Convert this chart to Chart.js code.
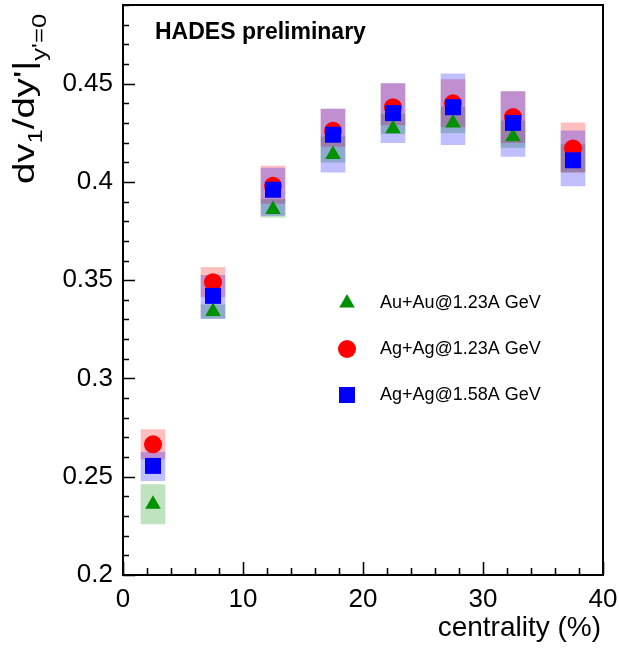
<!DOCTYPE html>
<html>
<head>
<meta charset="utf-8">
<script src="https://cdn.jsdelivr.net/npm/chart.js@4/dist/chart.umd.min.js"></script>
<style>
  html, body { margin: 0; padding: 0; background: #ffffff; }
  #wrap { width: 619px; height: 648px; }
</style>
</head>
<body>
<div id="wrap"><canvas id="c" width="619" height="648"></canvas></div>
<script>
// ---- data ----
const centrality = [2.5, 7.5, 12.5, 17.5, 22.5, 27.5, 32.5, 37.5];

const auau123      = [0.236, 0.334, 0.386, 0.414, 0.427, 0.430, 0.423, 0.411];
const auau123SysLo = [0.226, 0.3305, 0.382, 0.410, 0.4245, 0.425, 0.4175, 0.405];
const auau123SysHi = [0.246, 0.3375, 0.391, 0.423, 0.4345, 0.438, 0.431, 0.419];

const agag123      = [0.2665, 0.349, 0.398, 0.426, 0.438, 0.440, 0.433, 0.417];
const agag123SysLo = [0.259, 0.3415, 0.389, 0.418, 0.429, 0.428, 0.420, 0.405];
const agag123SysHi = [0.274, 0.3565, 0.408, 0.437, 0.450, 0.452, 0.446, 0.430];

const agag158      = [0.2555, 0.342, 0.396, 0.424, 0.435, 0.438, 0.430, 0.411];
const agag158SysLo = [0.248, 0.3305, 0.383, 0.405, 0.420, 0.419, 0.413, 0.398];
const agag158SysHi = [0.2625, 0.3525, 0.407, 0.437, 0.450, 0.455, 0.446, 0.426];

const seriesNames = ['Au+Au@1.23A GeV', 'Ag+Ag@1.23A GeV', 'Ag+Ag@1.58A GeV'];
const xTitle = 'centrality (%)';
const labelText = 'HADES preliminary';

// ---- styling ----
const FONT = "'Liberation Sans', Arial, Helvetica, sans-serif";
Chart.defaults.font.family = FONT;
Chart.defaults.color = '#000';

const GREEN = 'rgb(0,145,0)';
const RED = 'rgb(255,0,0)';
const BLUE = 'rgb(0,0,255)';
const styles = [
  { style: 'triangle', r: 9, color: GREEN, box: 'rgba(0,140,0,0.25)' },
  { style: 'circle', r: 9, color: RED, box: 'rgba(255,0,0,0.25)' },
  { style: 'rect', r: 11.3, color: BLUE, box: 'rgba(0,0,255,0.25)' }
];

const pts = (vals) => centrality.map((c, i) => ({ x: c, y: vals[i] }));
const boxes = (lo, hi) => centrality.map((c, i) => ({ x: c, y: [lo[i], hi[i]] }));

function boxDataset(lo, hi, s, order) {
  return {
    type: 'bar', data: boxes(lo, hi), backgroundColor: s.box, borderWidth: 0,
    grouped: false, barPercentage: 1.0, categoryPercentage: 1.0, order: order
  };
}
function markerDataset(v, s, order) {
  return {
    type: 'scatter', data: pts(v), pointStyle: s.style, pointRadius: s.r, pointHoverRadius: s.r,
    backgroundColor: s.color, borderColor: s.color, borderWidth: 0, showLine: false, order: order
  };
}

function drawMarker(ctx, style, x, y, r, color) {
  ctx.save();
  ctx.fillStyle = color;
  ctx.beginPath();
  if (style === 'circle') {
    ctx.arc(x, y, r, 0, Math.PI * 2);
  } else if (style === 'rect') {
    const s = Math.SQRT1_2 * r;
    ctx.rect(x - s, y - s, 2 * s, 2 * s);
  } else {
    const w = r * Math.sin(2 * Math.PI / 3);
    ctx.moveTo(x, y - r);
    ctx.lineTo(x + w, y + r / 2);
    ctx.lineTo(x - w, y + r / 2);
    ctx.closePath();
  }
  ctx.fill();
  ctx.restore();
}

function noPad(s) {
  s.paddingTop = 0; s.paddingBottom = 0; s.paddingLeft = 0; s.paddingRight = 0;
}

const decor = {
  id: 'decor',
  afterDraw(chart) {
    const ctx = chart.ctx;
    const a = chart.chartArea;
    const xs = chart.scales.x, ys = chart.scales.y;
    ctx.save();
    // frame
    ctx.strokeStyle = '#000';
    ctx.lineWidth = 2;
    ctx.strokeRect(a.left, a.top, a.right - a.left, a.bottom - a.top);
    // ticks (inward)
    ctx.lineWidth = 1.6;
    ctx.beginPath();
    ys.ticks.forEach(t => {
      const k = Math.round(t.value * 100);
      const len = (k % 5 === 0) ? 12 : 6;
      const p = Math.round(ys.getPixelForValue(t.value)) + 0.5;
      ctx.moveTo(a.left, p); ctx.lineTo(a.left + len, p);
    });
    xs.ticks.forEach(t => {
      const k = Math.round(t.value);
      const len = (k % 10 === 0) ? 13 : 7;
      const p = Math.round(xs.getPixelForValue(t.value)) + 0.5;
      ctx.moveTo(p, a.bottom); ctx.lineTo(p, a.bottom - len);
    });
    ctx.stroke();

    // x title
    ctx.fillStyle = '#000';
    ctx.font = '28px ' + FONT;
    ctx.textAlign = 'right';
    ctx.textBaseline = 'alphabetic';
    ctx.fillText(xTitle, 601, 636);

    // y title: dv_1/dy'|_{y'=0}
    ctx.save();
    ctx.translate(34, 184);
    ctx.rotate(-Math.PI / 2);
    ctx.scale(1.28, 1);
    ctx.textAlign = 'left';
    let x = 0;
    const big = '30px ' + FONT, small = '20px ' + FONT;
    ctx.font = big; ctx.fillText('dv', x, 0); x += ctx.measureText('dv').width;
    ctx.font = small; ctx.fillText('1', x, 8); x += ctx.measureText('1').width;
    ctx.font = big; ctx.fillText("/dy'|", x, 0); x += ctx.measureText("/dy'|").width;
    ctx.font = small; ctx.fillText("y'=0", x, 12);
    ctx.restore();

    // HADES label
    ctx.font = 'bold 23px ' + FONT;
    ctx.textAlign = 'left';
    ctx.fillText(labelText, 155, 39);

    // legend
    const legY = [303, 349, 395];
    ctx.font = '18px ' + FONT;
    ctx.textBaseline = 'middle';
    styles.forEach((s, i) => {
      drawMarker(ctx, s.style, 347, legY[i], s.r, s.color);
      ctx.fillText(seriesNames[i], 380, legY[i]);
    });
    ctx.restore();
  }
};

new Chart(document.getElementById('c'), {
  type: 'scatter',
  data: {
    datasets: [
      boxDataset(auau123SysLo, auau123SysHi, styles[0], 10),
      boxDataset(agag123SysLo, agag123SysHi, styles[1], 9),
      boxDataset(agag158SysLo, agag158SysHi, styles[2], 8),
      markerDataset(auau123, styles[0], 3),
      markerDataset(agag123, styles[1], 2),
      markerDataset(agag158, styles[2], 1)
    ]
  },
  options: {
    responsive: false,
    animation: false,
    events: [],
    layout: { autoPadding: false, padding: { top: 5, right: 16, left: 0, bottom: 0 } },
    plugins: { legend: { display: false }, tooltip: { enabled: false } },
    scales: {
      x: {
        type: 'linear', min: 0, max: 40, offset: false,
        grid: { display: false, drawTicks: false },
        border: { display: false },
        ticks: {
          stepSize: 2, autoSkip: false, maxRotation: 0, minRotation: 0, padding: 9,
          font: { size: 26 }, color: '#000',
          callback: (v) => (Math.round(v) % 10 === 0 ? String(Math.round(v)) : '')
        },
        afterFit: (s) => { s.height = 73; noPad(s); }
      },
      y: {
        type: 'linear', min: 0.2, max: 0.49,
        grid: { display: false, drawTicks: false },
        border: { display: false },
        ticks: {
          stepSize: 0.01, autoSkip: false, padding: 10,
          font: { size: 26 }, color: '#000',
          callback: (v) => { const k = Math.round(v * 100); return k % 5 === 0 ? String(k / 100) : ''; }
        },
        afterFit: (s) => { s.width = 123; noPad(s); }
      }
    }
  },
  plugins: [decor]
});
</script>
</body>
</html>
